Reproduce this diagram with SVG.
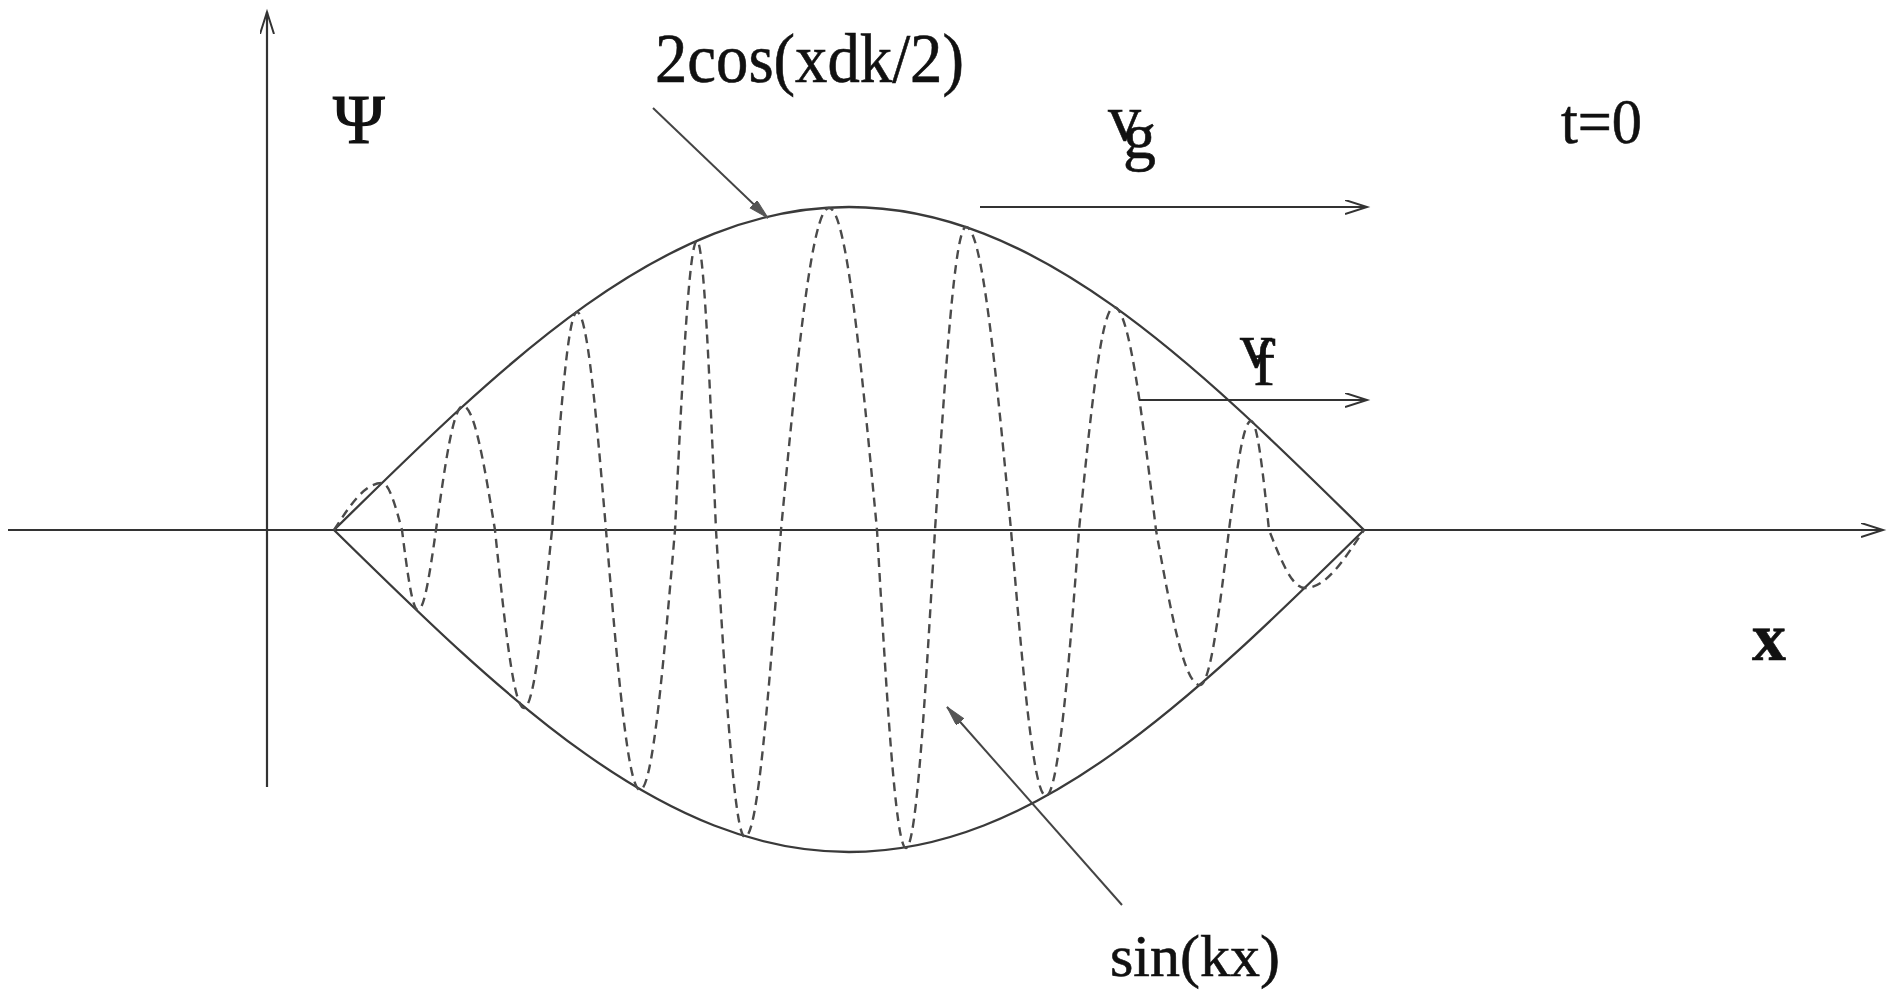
<svg xmlns="http://www.w3.org/2000/svg" width="1890" height="995" viewBox="0 0 1890 995">
<style>
.ln{fill:none;stroke:#333;stroke-width:2.2}
.env{fill:none;stroke:#3a3a3a;stroke-width:2.3}
.dash{fill:none;stroke:#4a4a4a;stroke-width:2.4;stroke-dasharray:9 6}
.lbl{fill:none;stroke:#444;stroke-width:2}
.t{font-family:"Liberation Serif","Times New Roman",serif;fill:#111;stroke:#111;stroke-width:0.6}
</style>
<defs>
<marker id="open" markerUnits="userSpaceOnUse" markerWidth="26" markerHeight="18" refX="22" refY="7" orient="auto">
<path d="M0,0 L22,7 L0,14" fill="none" stroke="#333" stroke-width="2"/>
</marker>
<marker id="fill" markerUnits="userSpaceOnUse" markerWidth="26" markerHeight="14" refX="20" refY="5" orient="auto">
<path d="M0,0 L20,5 L0,10 Z" fill="#555" stroke="#555" stroke-width="1"/>
</marker>
</defs>
<rect width="1890" height="995" fill="#fff"/>

<g id="axes">
<line class="ln" x1="8" y1="530" x2="1883" y2="530" marker-end="url(#open)"/>
<line class="ln" x1="267" y1="787" x2="267" y2="12" marker-end="url(#open)"/>
</g>

<g id="envelope">
<path class="env" d="M334,530 C506.2,360.4 662.8,207 849,207 C1035.2,207 1191.8,360.4 1364,530"/>
<path class="env" d="M334,530 C506.2,699.1 662.8,852 849,852 C1035.2,852 1191.8,699.1 1364,530"/>
</g>

<g id="wave">
<path class="dash" d="M334,530
C350.0,505.3 364.6,483 382,483 C389.2,483 395.3,505.3 402,530
C407.3,572.0 412.2,610 418,610 C424.5,610 430.0,572.0 436,530
C445.0,464.9 453.2,406 463,406 C474.6,406 484.3,464.9 495,530
C504.7,623.5 513.5,708 524,708 C534.1,708 542.6,623.5 552,530
C560.4,415.5 568.0,312 577,312 C587.5,312 596.3,415.5 606,530
C617.4,666.5 627.7,790 640,790 C652.7,790 663.3,666.5 675,530
C682.4,378.2 689.0,241 697,241 C703.9,241 709.6,378.2 716,530
C725.7,691.2 734.5,837 745,837 C758.0,837 769.0,691.2 781,530
C797.0,360.9 811.6,208 829,208 C846.4,208 861.0,360.9 877,530
C886.7,697 895.5,848 906,848 C916.5,848 925.3,697 935,530
C945.4,370.9 954.8,227 966,227 C982.3,227 996.0,370.9 1011,530
C1022.7,669.7 1033.3,796 1046,796 C1057.9,796 1069.0,669.7 1079,530
C1090.7,412.9 1101.3,307 1114,307 C1129.2,307 1142.0,412.9 1156,530
C1170.7,611.4 1184.1,685 1200,685 C1210.5,685 1219.3,611.4 1229,530
C1236.4,472.8 1243.0,421 1251,421 C1257.5,421 1263.0,472.8 1269,530
C1281.0,560.5 1292.0,588 1305,588 C1326.3,588 1343.3,560.5 1364,530"/>
</g>

<g id="connectors">
<line class="ln" x1="980" y1="207" x2="1367" y2="207" marker-end="url(#open)"/>
<line class="ln" x1="1139" y1="400" x2="1367" y2="400" marker-end="url(#open)"/>
<line class="lbl" x1="653" y1="108" x2="768" y2="218" marker-end="url(#fill)"/>
<line class="lbl" x1="1122" y1="905" x2="947" y2="707" marker-end="url(#fill)"/>
</g>

<g id="label-psi"><text class="t" x="333" y="143" font-size="70" style="stroke-width:1.2">Ψ</text></g>
<g id="label-2cos"><text class="t" x="655" y="82" font-size="70" textLength="309" lengthAdjust="spacingAndGlyphs">2cos(xdk/2)</text></g>
<g id="label-vg"><text class="t" x="1108" y="140" font-size="66">v<tspan dx="-18" dy="18">g</tspan></text></g>
<g id="label-t0"><text class="t" x="1561" y="143" font-size="64" textLength="81" lengthAdjust="spacingAndGlyphs">t=0</text></g>
<g id="label-vf"><text class="t" x="1240" y="367" font-size="64">v<tspan dx="-19" dy="18" font-size="66">f</tspan></text></g>
<g id="label-x"><text class="t" x="1752" y="660" font-size="68" font-weight="bold">x</text></g>
<g id="label-sin"><text class="t" x="1110" y="976" font-size="59" textLength="170" lengthAdjust="spacingAndGlyphs">sin(kx)</text></g>
</svg>
